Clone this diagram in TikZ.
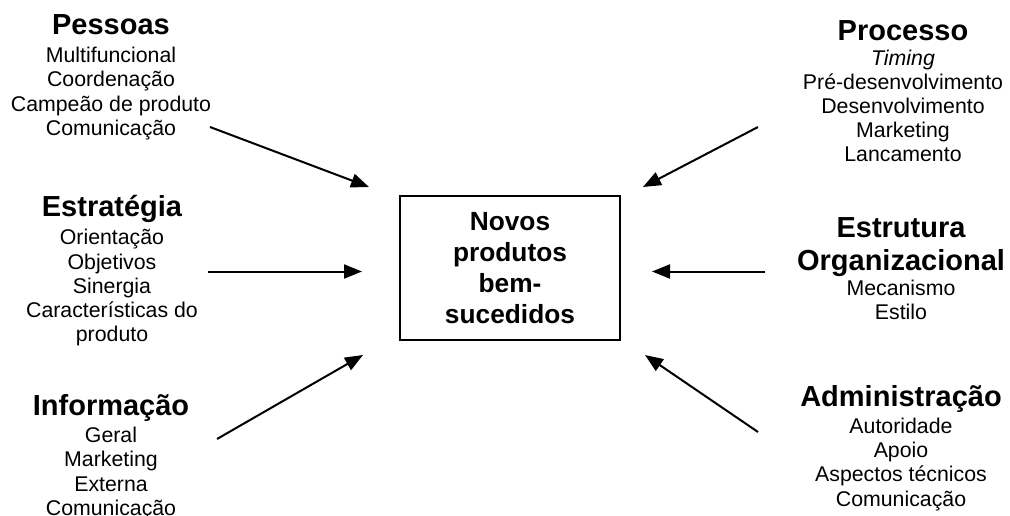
\documentclass[tikz,border=0pt]{standalone}
\usepackage{fontspec}
\setmainfont{Liberation Sans}
\usetikzlibrary{arrows.meta}

% heading line of a factor group
\newcommand{\grouphead}[1]{{\fontsize{29}{31}\selectfont\bfseries #1}}

\tikzset{
  factor/.style={anchor=base, inner sep=0pt, font=\fontsize{21.3}{24.2}\selectfont},
  hub/.style={draw, line width=2pt, minimum width=220pt, minimum height=144pt, inner sep=0pt},
  hubtext/.style={anchor=base, inner sep=0pt, font=\fontsize{26.3}{31.1}\selectfont\bfseries},
  flow/.style={line width=2pt, -{Triangle[length=18pt,width=14pt]}},
}

\begin{document}
\begin{tikzpicture}[x=1pt, y=-1pt]
  \useasboundingbox (0,0) rectangle (1010,516);

  % central box
  \node[hub] (hub) at (510,268) {};
  \node[hubtext] (hubtxt) at (510,230.7)
    {\begin{tabular}[t]{@{}c@{}}Novos\\produtos\\bem-\\sucedidos\end{tabular}};

  % factor groups, left column
  \node[factor] (pessoas) at (111,35)
    {\begin{tabular}[t]{@{}c@{}}\grouphead{Pessoas}\\[3.5pt]
      Multifuncional\\Coordenação\\Campeão de produto\\Comunicação\end{tabular}};
  \node[factor] (estrategia) at (112,216.7)
    {\begin{tabular}[t]{@{}c@{}}\grouphead{Estratégia}\\[4pt]
      Orientação\\Objetivos\\Sinergia\\Características do\\produto\end{tabular}};
  \node[factor] (informacao) at (111,415)
    {\begin{tabular}[t]{@{}c@{}}\grouphead{Informação}\\[3.5pt]
      Geral\\Marketing\\Externa\\Comunicação\end{tabular}};

  % factor groups, right column
  \node[factor] (processo) at (903,41)
    {\begin{tabular}[t]{@{}c@{}}\grouphead{Processo}\\
      \textit{Timing}\\Pré-desenvolvimento\\Desenvolvimento\\Marketing\\Lancamento\end{tabular}};
  \node[factor] (estrutura) at (901,237)
    {\begin{tabular}[t]{@{}c@{}}\grouphead{Estrutura}\\[5.5pt]\grouphead{Organizacional}\\[0.8pt]
      Mecanismo\\Estilo\end{tabular}};
  \node[factor] (administracao) at (901,406.7)
    {\begin{tabular}[t]{@{}c@{}}\grouphead{Administração}\\[2.5pt]
      Autoridade\\Apoio\\Aspectos técnicos\\Comunicação\end{tabular}};

  % arrow ends
  \coordinate (pA) at (210,127);   \coordinate (pB) at (369,187);
  \coordinate (eA) at (208,271.5); \coordinate (eB) at (362,271.5);
  \coordinate (iA) at (217,439);   \coordinate (iB) at (363,355);
  \coordinate (rA) at (758,127);   \coordinate (rB) at (643,187);
  \coordinate (oA) at (765,271.5); \coordinate (oB) at (652,271.5);
  \coordinate (aA) at (758,432);   \coordinate (aB) at (645,355);

  \draw[flow] (pA) -- (pB);
  \draw[flow] (eA) -- (eB);
  \draw[flow] (iA) -- (iB);
  \draw[flow] (rA) -- (rB);
  \draw[flow] (oA) -- (oB);
  \draw[flow] (aA) -- (aB);
\end{tikzpicture}
\end{document}
